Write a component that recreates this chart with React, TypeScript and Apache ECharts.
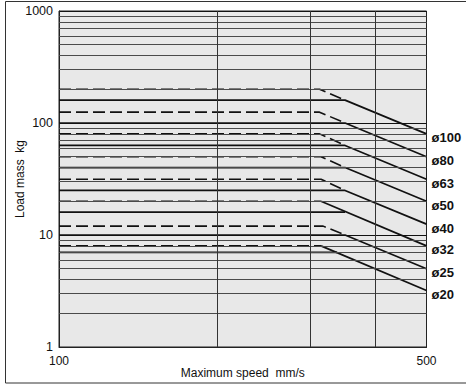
import React, { useEffect, useRef } from 'react';
import * as echarts from 'echarts';

// Bore sizes and their curves (speed mm/s, load mass kg)
const boreLabels = ['ø100', 'ø80', 'ø63', 'ø50', 'ø40', 'ø32', 'ø25', 'ø20'];
const dashedMass = [200, 125, 80, 50, 31.5, 20, 12, 8];
const solidMass = [160, 100, 63, 40, 25, 16, 10, 7];
const endMass = [80, 50, 31.5, 20, 12.5, 8, 5, 3.2];
const dashedKneeSpeed = [313, 313, 313, 315, 315, 315, 318, 315];
const solidKneeSpeed = [350, 350, 350, 350, 350, 350, 350, 338];
const diagonalFromDashedKnee = [false, false, false, false, false, true, false, true];

const speedRange = [100, 500];
const massRange = [1, 1000];
const speedGridLines = [200, 300, 400];
const massGridLines = [2, 3, 4, 5, 6, 7, 8, 9, 20, 30, 40, 50, 60, 70, 80, 90, 200, 300, 400, 500, 600, 700, 800, 900];

const FONT = '"Liberation Sans", Arial, Helvetica, sans-serif';
const INK = '#111';

export default function App() {
  const ref = useRef<HTMLDivElement>(null);

  useEffect(() => {
    if (!ref.current) return;
    const chart = echarts.init(ref.current, undefined, { renderer: 'svg' });

    const series: any[] = [];

    // helper series carrying the grid lines
    series.push({
      type: 'line',
      data: [],
      silent: true,
      z: 1,
      markLine: {
        silent: true,
        symbol: 'none',
        label: { show: false },
        animation: false,
        lineStyle: { color: '#4a4a4a', width: 1, type: 'solid' },
        data: [
          ...massGridLines.map((v) => ({ yAxis: v })),
          ...speedGridLines.map((v) => ({ xAxis: v, lineStyle: { color: '#333', width: 1, type: 'solid' } })),
        ],
      },
    });

    const dashStyle = { color: INK, width: 1.6, type: [12, 5] as any };
    const solidStyle = { color: INK, width: 1.7, type: 'solid' as any };
    const endLabel = (name: string) => ({
      show: true,
      formatter: name,
      fontFamily: FONT,
      fontWeight: 'bold',
      fontSize: 13,
      color: INK,
      distance: 5,
      offset: [0, 4],
    });

    boreLabels.forEach((name, i) => {
      const d = dashedMass[i];
      const s = solidMass[i];
      const e = endMass[i];
      const vd = dashedKneeSpeed[i];
      const vs = solidKneeSpeed[i];
      const common = {
        type: 'line',
        symbol: 'none',
        z: 3,
        silent: true,
      };
      if (!diagonalFromDashedKnee[i]) {
        series.push({
          ...common,
          name: name + '-dashed',
          data: [[speedRange[0], d], [vd, d], [vs, s]],
          lineStyle: dashStyle,
        });
        series.push({
          ...common,
          name,
          data: [[speedRange[0], s], [vs, s], [speedRange[1], e]],
          lineStyle: solidStyle,
          endLabel: endLabel(name),
        });
      } else {
        series.push({
          ...common,
          name: name + '-dashed',
          data: [[speedRange[0], d], [vd, d]],
          lineStyle: dashStyle,
        });
        series.push({
          ...common,
          name: name + '-flat',
          data: [[speedRange[0], s], [vs, s]],
          lineStyle: solidStyle,
        });
        series.push({
          ...common,
          name,
          data: [[vd, d], [speedRange[1], e]],
          lineStyle: solidStyle,
          endLabel: endLabel(name),
        });
      }
    });

    chart.setOption({
      animation: false,
      backgroundColor: '#fff',
      textStyle: { fontFamily: FONT },
      grid: {
        left: 59,
        right: 39.5,
        top: 11,
        bottom: 37,
        containLabel: false,
        outerBoundsMode: 'none',
        show: true,
        backgroundColor: '#e8e8e8',
        borderColor: '#222',
        borderWidth: 1,
      },
      xAxis: {
        type: 'log',
        logBase: 10,
        min: speedRange[0],
        max: speedRange[1],
        name: 'Maximum speed  mm/s',
        nameLocation: 'middle',
        nameGap: 20,
        nameMoveOverlap: false,
        nameTextStyle: { fontFamily: FONT, fontSize: 12, color: INK, verticalAlign: 'top' },
        axisLine: { show: true, lineStyle: { color: '#222', width: 1 } },
        axisTick: { show: false },
        splitLine: { show: false },
        axisLabel: {
          fontFamily: FONT,
          fontSize: 12,
          color: INK,
          margin: 8,
          showMinLabel: true,
          showMaxLabel: true,
          formatter: (v: number) => String(Math.round(v)),
        },
      },
      yAxis: {
        type: 'log',
        logBase: 10,
        min: massRange[0],
        max: massRange[1],
        name: 'Load mass  kg',
        nameLocation: 'middle',
        nameGap: 33,
        nameMoveOverlap: false,
        nameTextStyle: { fontFamily: FONT, fontSize: 12, color: INK },
        axisLine: { show: true, lineStyle: { color: '#222', width: 1 } },
        axisTick: { show: false },
        splitLine: { show: true, lineStyle: { color: '#111', width: 1.2 } },
        axisLabel: {
          fontFamily: FONT,
          fontSize: 12.5,
          color: INK,
          margin: 6,
          formatter: (v: number) => String(Math.round(v)),
        },
      },
      graphic: [
        {
          type: 'rect',
          shape: { x: 5.5, y: 1.5, width: 470, height: 381.5 },
          style: { fill: 'none', stroke: '#333', lineWidth: 1 },
          silent: true,
          z: 100,
        },
      ],
      series,
    });

    return () => chart.dispose();
  }, []);

  return (
    <div
      ref={ref}
      style={{ position: 'fixed', left: 0, top: 0, width: 466, height: 384 }}
    />
  );
}
